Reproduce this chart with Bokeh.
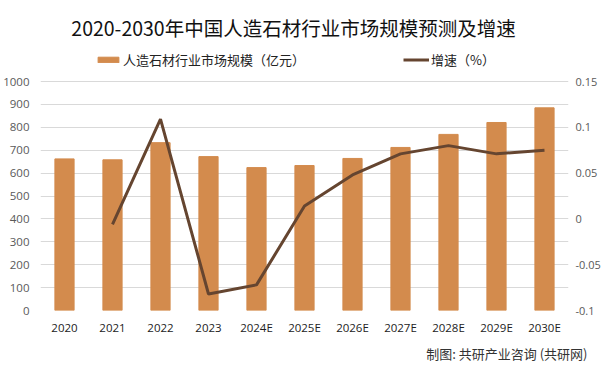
from bokeh.plotting import figure
from bokeh.models import (Range1d, FactorRange, LinearAxis, FixedTicker,
                          CustomJSTickFormatter, Legend, LegendItem, Title, Label)
from bokeh.embed import file_html
from bokeh.resources import INLINE

years = ["2020", "2021", "2022", "2023", "2024E", "2025E", "2026E", "2027E", "2028E", "2029E", "2030E"]
market_size = [662, 658, 733, 672, 624, 633, 664, 712, 769, 821, 885]
growth_years = years[1:]
growth_rate = [-0.006, 0.109, -0.082, -0.072, 0.014, 0.048, 0.071, 0.080, 0.071, 0.075]
left_ticks = [0, 100, 200, 300, 400, 500, 600, 700, 800, 900, 1000]
right_ticks = [-0.1, -0.05, 0, 0.05, 0.1, 0.15]

title_text = "2020-2030年中国人造石材行业市场规模预测及增速"
bar_label = "人造石材行业市场规模（亿元）"
line_label = "增速（%）"
source_text = "制图: 共研产业咨询 (共研网)"

CJK = "Noto Sans CJK SC"
NUM = "Open Sans"
BAR_COLOR = "#d38b4d"
LINE_COLOR = "#654530"
GRID = "#d9d9d9"
TXT = "#595959"

# frame spans from canvas top (0) to y=310; gridded part (0..1000) spans 229 px
FRAME_H = 310
PX_PER_UNIT = 229 / 1000
y_top = FRAME_H / PX_PER_UNIT
g_top = -0.1 + 0.25 * y_top / 1000

p = figure(width=603, height=375, x_range=FactorRange(*years, range_padding=0),
           y_range=Range1d(0, y_top), output_backend="svg", toolbar_location=None,
           min_border_left=40, min_border_right=35, min_border_top=0, min_border_bottom=65,
           background_fill_color="white", border_fill_color="white", outline_line_color=None)
p.extra_y_ranges = {"g": Range1d(-0.1, g_top)}

bars = p.vbar(x=years, top=market_size, width=0.4, color=BAR_COLOR)
line = p.line(x=growth_years, y=growth_rate, y_range_name="g", line_color=LINE_COLOR, line_width=3)

for ax in (p.xaxis, p.yaxis):
    ax.axis_line_color = None
    ax.major_tick_line_color = None
    ax.minor_tick_line_color = None
    ax.major_tick_out = 0
    ax.major_tick_in = 0
    ax.minor_tick_out = 0
    ax.major_label_text_font = NUM
    ax.major_label_text_font_size = "11.5px"

p.xaxis.major_label_text_color = "#222222"
p.xaxis.major_label_standoff = 9

p.yaxis.ticker = FixedTicker(ticks=left_ticks)
p.yaxis.major_label_text_color = TXT
p.yaxis.major_label_standoff = 11

ra = LinearAxis(y_range_name="g", ticker=FixedTicker(ticks=right_ticks),
                formatter=CustomJSTickFormatter(code="var s = tick.toFixed(2).replace(/0+$/,'').replace(/\\.$/,''); return s == '-0' ? '0' : s;"),
                axis_line_color=None, major_tick_line_color=None, minor_tick_line_color=None,
                major_tick_out=0, major_tick_in=0, minor_tick_out=0,
                major_label_text_font=NUM, major_label_text_font_size="11px",
                major_label_text_color=TXT, major_label_standoff=7)
p.add_layout(ra, "right")

p.xgrid.grid_line_color = None
p.ygrid.grid_line_color = GRID
p.ygrid.ticker = FixedTicker(ticks=left_ticks)

legend = Legend(items=[LegendItem(label=bar_label, renderers=[bars]),
                       LegendItem(label=line_label, renderers=[line])],
                orientation="horizontal", location=(55, 241), spacing=98,
                glyph_width=26, glyph_height=7, label_text_font=CJK, label_text_font_size="13px",
                label_text_color="#222222", padding=0, margin=0, border_line_color=None,
                background_fill_alpha=0, label_standoff=2, label_height=16)
p.add_layout(legend, "center")

p.add_layout(Label(x=253, y=283, x_units="screen", y_units="screen", text=title_text,
                   text_font=CJK, text_font_size="19.5px", text_color="#111111",
                   text_align="center", text_baseline="middle"))

p.add_layout(Title(text=source_text, align="right", text_font=CJK, text_font_size="13px",
                   text_font_style="normal", text_color="#333333", offset=-19, standoff=8), "below")

open("out.html", "w").write(file_html(p, INLINE))
